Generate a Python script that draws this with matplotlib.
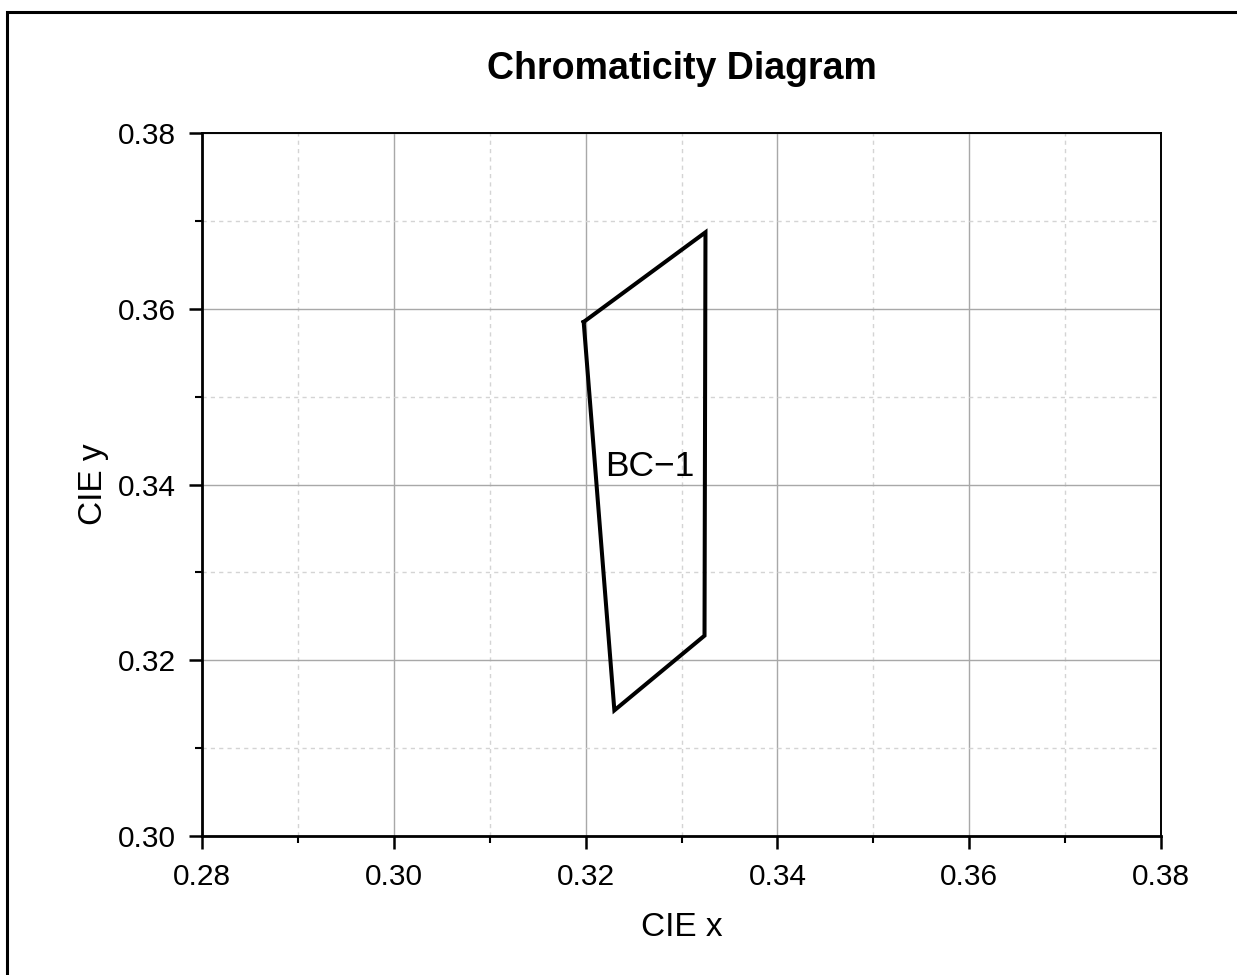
import matplotlib
matplotlib.use("Agg")
import matplotlib.pyplot as plt
from matplotlib.patches import Rectangle
from matplotlib.ticker import MultipleLocator

plt.rcParams['font.family'] = ['Liberation Sans', 'DejaVu Sans']

# region corners (CIE x, CIE y)
cie_x = [0.3198, 0.3325, 0.3324, 0.3230]
cie_y = [0.3585, 0.3687, 0.3228, 0.3143]
region_name = "BC\u22121"
label_pos = (0.3267, 0.3420)

xlim = (0.28, 0.38)
ylim = (0.30, 0.38)

fig = plt.figure(figsize=(12.37, 9.75), dpi=100)
ax = fig.add_axes([202/1237, 1 - 836/975, (1161-202)/1237, (836-133)/975])

# outer frame around the figure
fig.patches.append(Rectangle((6.5/1237, -0.05), 1.1, 1 - 12/975 + 0.05,
                             transform=fig.transFigure, fill=False,
                             edgecolor='black', linewidth=2.2, zorder=0))

ax.plot(cie_x + cie_x[:1], cie_y + cie_y[:1], color='black', linewidth=2.9,
        solid_joinstyle='miter', zorder=3)
ax.text(label_pos[0], label_pos[1], region_name, fontsize=25.5,
        ha='center', va='center', zorder=4)

ax.set_xlim(*xlim)
ax.set_ylim(*ylim)
ax.xaxis.set_major_locator(MultipleLocator(0.02))
ax.xaxis.set_minor_locator(MultipleLocator(0.01))
ax.yaxis.set_major_locator(MultipleLocator(0.02))
ax.yaxis.set_minor_locator(MultipleLocator(0.01))
ax.xaxis.set_major_formatter(plt.FormatStrFormatter('%.2f'))
ax.yaxis.set_major_formatter(plt.FormatStrFormatter('%.2f'))

ax.grid(which='major', color='#a8a8a8', linewidth=1.0, linestyle='-')
ax.grid(which='minor', color='#d4d4d4', linewidth=1.0, linestyle=(0, (3, 3)))
ax.set_axisbelow(True)

ax.tick_params(which='major', direction='out', length=9.5, width=1.8,
               labelsize=21.5, pad=9)
ax.tick_params(which='minor', direction='out', length=5, width=1.5)
ax.tick_params(axis='x', pad=10)
ax.tick_params(top=False, right=False, which='both')

for side in ['left', 'bottom']:
    ax.spines[side].set_linewidth(2.0)
for side in ['top', 'right']:
    ax.spines[side].set_linewidth(1.4)

ax.set_title("Chromaticity Diagram", fontsize=27, fontweight='bold',
             y=1 + (133 - 79) / 703, pad=0)
ax.set_xlabel("CIE x", fontsize=24)
ax.set_ylabel("CIE y", fontsize=24)
ax.xaxis.set_label_coords(0.5, -0.108)
ax.yaxis.set_label_coords(-0.097, 0.5)

fig.savefig("out.png", dpi=100)
